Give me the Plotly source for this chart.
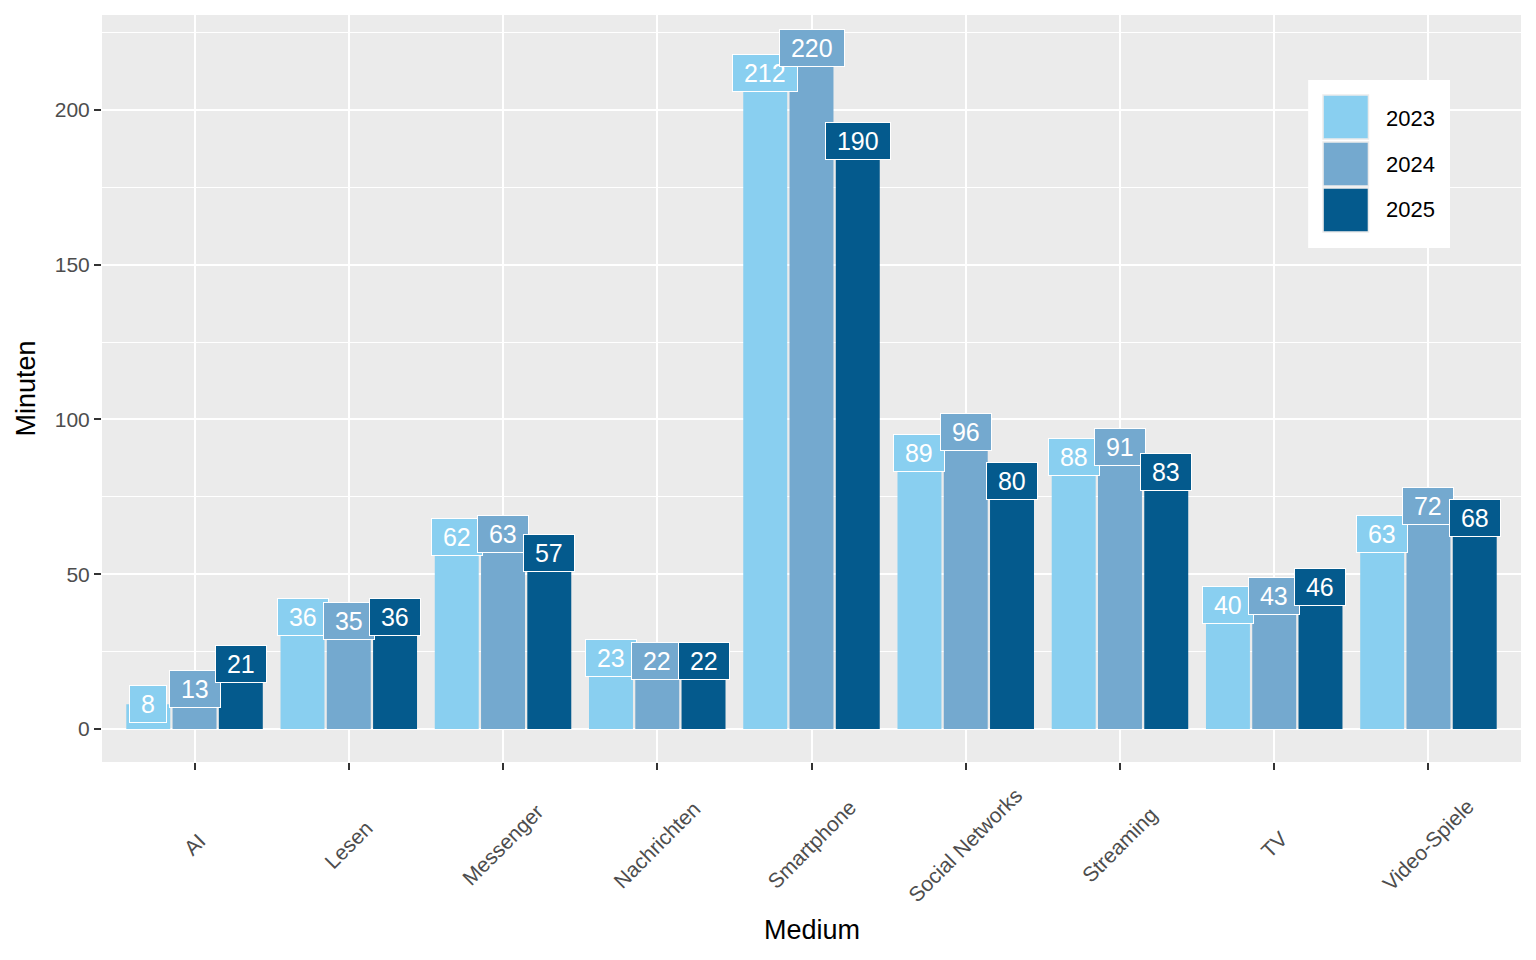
import plotly.graph_objects as go

categories = ["AI", "Lesen", "Messenger", "Nachrichten", "Smartphone",
              "Social Networks", "Streaming", "TV", "Video-Spiele"]
years = ["2023", "2024", "2025"]
values_2023 = [8, 36, 62, 23, 212, 89, 88, 40, 63]
values_2024 = [13, 35, 63, 22, 220, 96, 91, 43, 72]
values_2025 = [21, 36, 57, 22, 190, 80, 83, 46, 68]
series = [values_2023, values_2024, values_2025]
colors = ["#89CFF0", "#74A9CF", "#045A8D"]

FONT = "Liberation Sans, Arial, sans-serif"
idx = list(range(len(categories)))
dodge = 0.3

fig = go.Figure()
for j, (yr, vals, col) in enumerate(zip(years, series, colors)):
    fig.add_trace(go.Bar(x=idx, y=vals, name=yr, marker_color=col,
                         marker_line_width=0, showlegend=False,
                         offsetgroup=str(j)))

annotations = []
for j, (vals, col) in enumerate(zip(series, colors)):
    for i, v in enumerate(vals):
        annotations.append(dict(
            x=i + (j - 1) * dodge, y=v, xref="x", yref="y",
            text=f" {v} ", showarrow=False,
            font=dict(family=FONT, size=25, color="white"),
            bgcolor=col, bordercolor="white", borderwidth=1, borderpad=4,
            xanchor="center", yanchor="middle"))

# rotated category labels (centered on tick)
for i, c in enumerate(categories):
    annotations.append(dict(
        x=i, y=-0.111, xref="x", yref="paper", text=c, showarrow=False,
        textangle=-45, font=dict(family=FONT, size=21, color="#4D4D4D"),
        xanchor="center", yanchor="middle"))

# axis titles
annotations.append(dict(x=0.5, y=-0.225, xref="paper", yref="paper",
                        text="Medium", showarrow=False,
                        font=dict(family=FONT, size=27, color="black"),
                        xanchor="center", yanchor="middle"))
annotations.append(dict(x=-0.0536, y=0.5, xref="paper", yref="paper",
                        text="Minuten", showarrow=False, textangle=-90,
                        font=dict(family=FONT, size=27, color="black"),
                        xanchor="center", yanchor="middle"))

# custom legend
shapes = [dict(type="rect", xref="paper", yref="paper",
               x0=0.850, x1=0.950, y0=0.688, y1=0.913,
               fillcolor="white", line=dict(width=0), layer="above")]
key_y = [(0.8929, 0.834), (0.830, 0.771), (0.7684, 0.7095)]
text_y = [0.862, 0.8005, 0.739]
for j, (yr, col) in enumerate(zip(years, colors)):
    y1, y0 = key_y[j]
    shapes.append(dict(type="rect", xref="paper", yref="paper",
                       x0=0.8605, x1=0.8925, y0=y0, y1=y1,
                       fillcolor=col, line=dict(color="#EBEBEB", width=1.5),
                       layer="above"))
    annotations.append(dict(x=0.9035, y=text_y[j], xref="paper", yref="paper",
                            text=yr, showarrow=False,
                            font=dict(family=FONT, size=22, color="black"),
                            xanchor="left", yanchor="middle"))

fig.update_layout(
    width=1528, height=952,
    margin=dict(l=94, r=15, t=7, b=198),
    paper_bgcolor="white", plot_bgcolor="#EBEBEB",
    barmode="group", bargap=0.1, bargroupgap=0.05,
    font=dict(family=FONT),
    annotations=annotations, shapes=shapes,
    showlegend=False,
)
fig.update_xaxes(range=[-0.6, len(categories) - 0.4],
                 tickvals=idx, ticktext=categories, showticklabels=False,
                 showgrid=True, gridcolor="white", gridwidth=2,
                 ticks="outside", ticklen=7, tickwidth=1.5, tickcolor="#333333",
                 zeroline=False, showline=False)
fig.update_yaxes(range=[-10.7, 230.7], tickvals=[0, 50, 100, 150, 200],
                 showgrid=True, gridcolor="white", gridwidth=2,
                 minor=dict(tickvals=[25, 75, 125, 175, 225], showgrid=True,
                            gridcolor="white", gridwidth=1, ticks=""),
                 ticks="outside", ticklen=7, tickwidth=1.5, tickcolor="#333333",
                 tickfont=dict(family=FONT, size=21, color="#4D4D4D"),
                 zeroline=False, showline=False)

fig.write_html("out.html")
